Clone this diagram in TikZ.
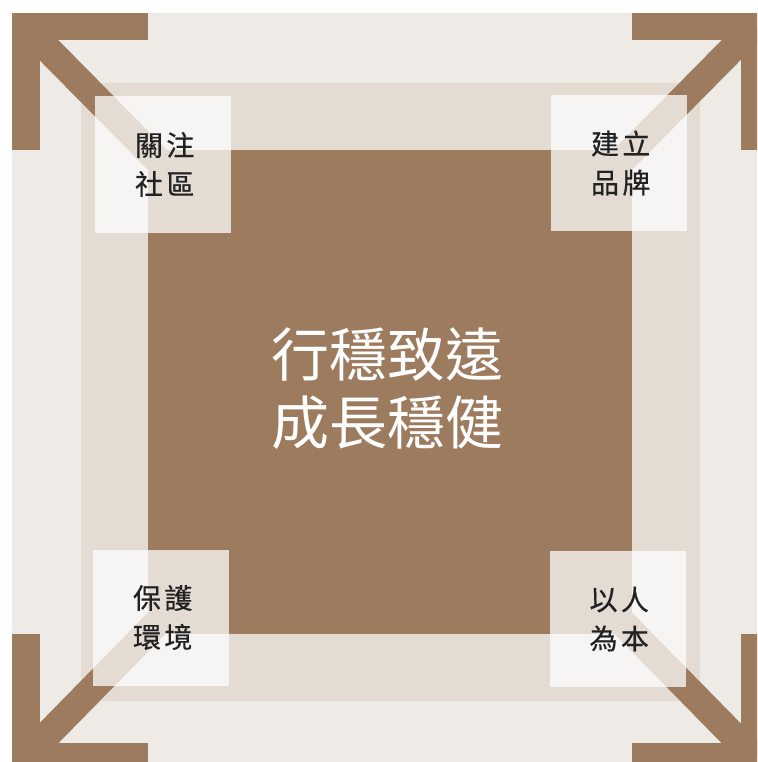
\documentclass[tikz,border=0pt]{standalone}
\usepackage{fontspec}
\newfontfamily\cjk{Noto Sans CJK TC}
\newfontfamily\cjklab[LetterSpace=12,FakeBold=0.5]{Noto Sans CJK TC}
\definecolor{brownc}{HTML}{9C7B5F}
\definecolor{outerc}{HTML}{EEEAE6}
\definecolor{midc}{HTML}{E4DCD3}
\definecolor{textc}{HTML}{222222}
\begin{document}
\begin{tikzpicture}[x=1pt,y=-1pt,
  panel/.style={fill=white,fill opacity=0.73,draw=none,minimum width=136pt,minimum height=136pt,inner sep=0},
  smalllabel/.style={text=textc,font=\cjklab\fontsize{28}{39}\selectfont,align=center,inner sep=0,xshift=1.7pt},
  biglabel/.style={text=white,font=\cjk\fontsize{58}{68}\selectfont,align=center,inner sep=0},
  arm/.style={draw=brownc,line width=27.5pt,line join=miter,line cap=butt},
  shaft/.style={draw=brownc,line width=27.5pt,line cap=butt}
  ]
\useasboundingbox (0,0) rectangle (757,762);
\clip (0,0) rectangle (757,762);
% backgrounds
\fill[outerc] (12,13) rectangle (768,770.5);
\fill[midc] (81,83) rectangle (700,701);
\fill[brownc] (148,150) rectangle (632,634);
% corner coordinates
\coordinate (tlc) at (25.75,26.75);
\coordinate (trc) at (754.25,26.75);
\coordinate (blc) at (25.75,756.75);
\coordinate (brc) at (754.25,756.75);
\coordinate (tle) at (157.5,160);
\coordinate (tre) at (622.5,160);
\coordinate (ble) at (159,621);
\coordinate (bre) at (621,621);
% arrows
\draw[arm] (148,26.75) -- (tlc) -- (25.75,150);
\draw[shaft] (tle) -- (tlc);
\draw[arm] (632,26.75) -- (trc) -- (754.25,150);
\draw[shaft] (tre) -- (trc);
\draw[arm] (148,756.75) -- (blc) -- (25.75,634);
\draw[shaft] (ble) -- (blc);
\draw[arm] (632,756.75) -- (brc) -- (754.25,634);
\draw[shaft] (bre) -- (brc);
% panels
\node[panel] (ptl) at (163,164.5) {};
\node[panel] (ptr) at (619,163) {};
\node[panel] (pbl) at (161,617.5) {};
\node[panel] (pbr) at (617.5,619) {};
% labels
\node[smalllabel] (ltl) at (ptl) {關注\\社區};
\node[smalllabel] (ltr) at (ptr) {建立\\品牌};
\node[smalllabel] (lbl) at (pbl) {保護\\環境};
\node[smalllabel] (lbr) at (pbr) {以人\\為本};
\node[biglabel] (center) at (387,389) {行穩致遠\\成長穩健};
\end{tikzpicture}
\end{document}
